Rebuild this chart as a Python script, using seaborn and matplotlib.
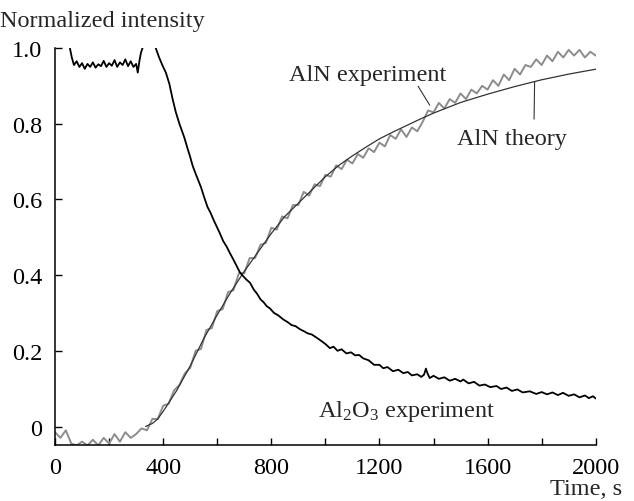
import pandas as pd
import seaborn as sns
import matplotlib.pyplot as plt
from matplotlib.ticker import MultipleLocator

# AlN experiment (grey, noisy): (time s, intensity)
aln_exp = [(0, -0.015), (20, -0.030), (40, -0.010), (60, -0.045), (80, -0.050), (100, -0.040),
           (120, -0.050), (140, -0.035), (160, -0.050), (180, -0.030), (200, -0.045), (220, -0.020),
           (240, -0.040), (260, -0.015), (280, -0.030), (300, -0.020), (320, -0.005), (340, -0.010),
           (360, 0.020), (380, 0.020), (400, 0.055), (420, 0.060), (440, 0.095), (460, 0.110),
           (480, 0.140), (500, 0.155), (520, 0.200), (540, 0.205), (560, 0.255), (580, 0.260),
           (600, 0.305), (620, 0.310), (640, 0.355), (660, 0.360), (680, 0.405), (700, 0.405),
           (720, 0.445), (740, 0.445), (760, 0.480), (780, 0.485), (800, 0.525), (820, 0.520),
           (840, 0.555), (860, 0.550), (880, 0.585), (900, 0.585), (920, 0.620), (940, 0.610),
           (960, 0.640), (980, 0.635), (1000, 0.665), (1020, 0.660), (1040, 0.690), (1060, 0.680),
           (1080, 0.705), (1100, 0.695), (1120, 0.720), (1140, 0.710), (1160, 0.735), (1180, 0.725),
           (1200, 0.750), (1220, 0.740), (1240, 0.770), (1260, 0.760), (1280, 0.785), (1300, 0.765),
           (1320, 0.790), (1340, 0.780), (1360, 0.805), (1380, 0.835), (1400, 0.830), (1420, 0.855),
           (1440, 0.840), (1460, 0.865), (1480, 0.855), (1500, 0.880), (1520, 0.865), (1540, 0.890),
           (1560, 0.880), (1580, 0.900), (1600, 0.890), (1620, 0.915), (1640, 0.900), (1660, 0.930),
           (1680, 0.915), (1700, 0.945), (1720, 0.930), (1740, 0.955), (1760, 0.950), (1780, 0.970),
           (1800, 0.955), (1820, 0.980), (1840, 0.965), (1860, 0.990), (1880, 0.975), (1900, 0.995),
           (1920, 0.980), (1940, 0.995), (1960, 0.975), (1980, 0.990), (2000, 0.980)]

# AlN theory (thin dark line)
aln_theory = [(335, 0.0), (360, 0.008), (380, 0.020), (400, 0.040), (450, 0.095), (500, 0.160),
              (550, 0.232), (600, 0.295), (650, 0.355), (700, 0.410), (750, 0.460), (800, 0.510),
              (850, 0.555), (900, 0.590), (950, 0.625), (1000, 0.660), (1050, 0.690), (1100, 0.715),
              (1150, 0.738), (1200, 0.760), (1250, 0.778), (1300, 0.795), (1350, 0.812), (1400, 0.828),
              (1500, 0.856), (1600, 0.878), (1700, 0.898), (1800, 0.916), (1900, 0.931), (2000, 0.944)]

# Al2O3 experiment (black)
al2o3_exp = [(55, 1.00), (62, 0.975), (70, 0.955), (80, 0.965), (90, 0.950), (100, 0.960),
             (110, 0.945), (120, 0.958), (130, 0.950), (140, 0.962), (150, 0.948), (160, 0.957),
             (170, 0.952), (180, 0.966), (190, 0.950), (200, 0.960), (210, 0.953), (220, 0.968),
             (230, 0.950), (240, 0.962), (250, 0.955), (260, 0.970), (270, 0.952), (280, 0.965),
             (290, 0.950), (300, 0.958), (306, 0.935), (312, 0.965), (318, 0.988), (326, 1.005),
             (340, 1.020), (355, 1.025), (368, 1.010), (375, 0.995), (385, 0.975), (398, 0.953),
             (410, 0.935), (423, 0.905), (435, 0.865), (447, 0.830), (460, 0.800), (470, 0.780),
             (478, 0.764), (490, 0.735), (500, 0.712), (509, 0.689), (520, 0.668), (530, 0.650),
             (540, 0.632), (552, 0.605), (564, 0.580), (575, 0.565), (587, 0.545), (598, 0.528),
             (610, 0.510), (622, 0.490), (635, 0.475), (647, 0.458), (659, 0.442), (671, 0.425),
             (684, 0.407), (695, 0.398), (708, 0.388), (721, 0.380), (735, 0.362), (748, 0.350),
             (760, 0.336), (772, 0.328), (783, 0.318), (795, 0.312), (810, 0.300), (825, 0.294),
             (844, 0.283), (860, 0.276), (875, 0.268), (890, 0.265), (906, 0.257), (920, 0.252),
             (935, 0.246), (950, 0.243), (967, 0.235), (985, 0.226), (1000, 0.218), (1017, 0.207),
             (1030, 0.211), (1045, 0.200), (1060, 0.204), (1078, 0.193), (1095, 0.196), (1110, 0.188),
             (1125, 0.189), (1140, 0.180), (1160, 0.175), (1180, 0.163), (1200, 0.163), (1214, 0.154),
             (1230, 0.157), (1250, 0.146), (1270, 0.150), (1288, 0.141), (1305, 0.144), (1320, 0.135),
             (1340, 0.138), (1355, 0.131), (1365, 0.137), (1372, 0.153), (1378, 0.140), (1386, 0.128),
             (1400, 0.134), (1420, 0.126), (1440, 0.130), (1460, 0.121), (1480, 0.126), (1500, 0.119),
             (1510, 0.124), (1530, 0.114), (1550, 0.118), (1570, 0.108), (1590, 0.111), (1610, 0.104),
             (1633, 0.107), (1650, 0.099), (1670, 0.103), (1690, 0.094), (1710, 0.098), (1730, 0.090),
             (1756, 0.093), (1780, 0.086), (1800, 0.091), (1820, 0.085), (1840, 0.090), (1860, 0.083),
             (1879, 0.089), (1900, 0.081), (1920, 0.085), (1940, 0.077), (1960, 0.082), (1975, 0.075),
             (1990, 0.080), (2000, 0.074)]

df_aln = pd.DataFrame(aln_exp, columns=['t', 'v'])
df_th = pd.DataFrame(aln_theory, columns=['t', 'v'])
df_al2o3 = pd.DataFrame(al2o3_exp, columns=['t', 'v'])

sns.set_style('ticks')
plt.rcParams['font.family'] = ['Liberation Serif', 'DejaVu Serif']
plt.rcParams['mathtext.default'] = 'regular'

fs = 17.5

fig = plt.figure(figsize=(6.34, 5.02), dpi=100)
ax = fig.add_axes([0.0868, 0.1122, 0.8528, 0.7902])

sns.lineplot(data=df_aln, x='t', y='v', ax=ax, color='#8c8c8c', lw=1.4, estimator=None, sort=False)
sns.lineplot(data=df_th, x='t', y='v', ax=ax, color='#333333', lw=0.9, estimator=None, sort=False)
sns.lineplot(data=df_al2o3, x='t', y='v', ax=ax, color='black', lw=1.3, estimator=None, sort=False)

ax.set_xlim(0, 2000)
ax.set_ylim(-0.048, 1.0)
ax.set_xlabel('')
ax.set_ylabel('')
ax.xaxis.set_major_locator(MultipleLocator(400))
ax.xaxis.set_minor_locator(MultipleLocator(200))
ax.set_yticks([0, 0.2, 0.4, 0.6, 0.8, 1.0])
ax.set_yticklabels(['0', '0.2', '0.4', '0.6', '0.8', '1.0'])
ax.tick_params(axis='both', which='both', direction='in', length=5, width=1, labelsize=fs, colors='black')
ax.tick_params(axis='y', pad=9)
ax.tick_params(axis='x', pad=9)
for s in ['left', 'bottom']:
    ax.spines[s].set_linewidth(1.1)
    ax.spines[s].set_color('black')
sns.despine(ax=ax)

# annotations
ax.text(865, 0.931, 'AlN experiment', fontsize=fs, ha='left', va='center')
ax.plot([1343, 1386], [0.899, 0.849], color='#333333', lw=0.8)
ax.text(1486, 0.760, 'AlN theory', fontsize=fs, ha='left', va='center')
ax.plot([1774, 1772], [0.911, 0.812], color='#333333', lw=0.8)
ax.text(972, 0.042, 'Al$_2$O$_3$ experiment', fontsize=fs, ha='left', va='center')

fig.text(0.0, 0.946, 'Normalized intensity', fontsize=fs, ha='left', va='baseline')
fig.text(0.981, 0.014, 'Time, s', fontsize=fs, ha='right', va='baseline')

fig.savefig('out.png', dpi=100)
